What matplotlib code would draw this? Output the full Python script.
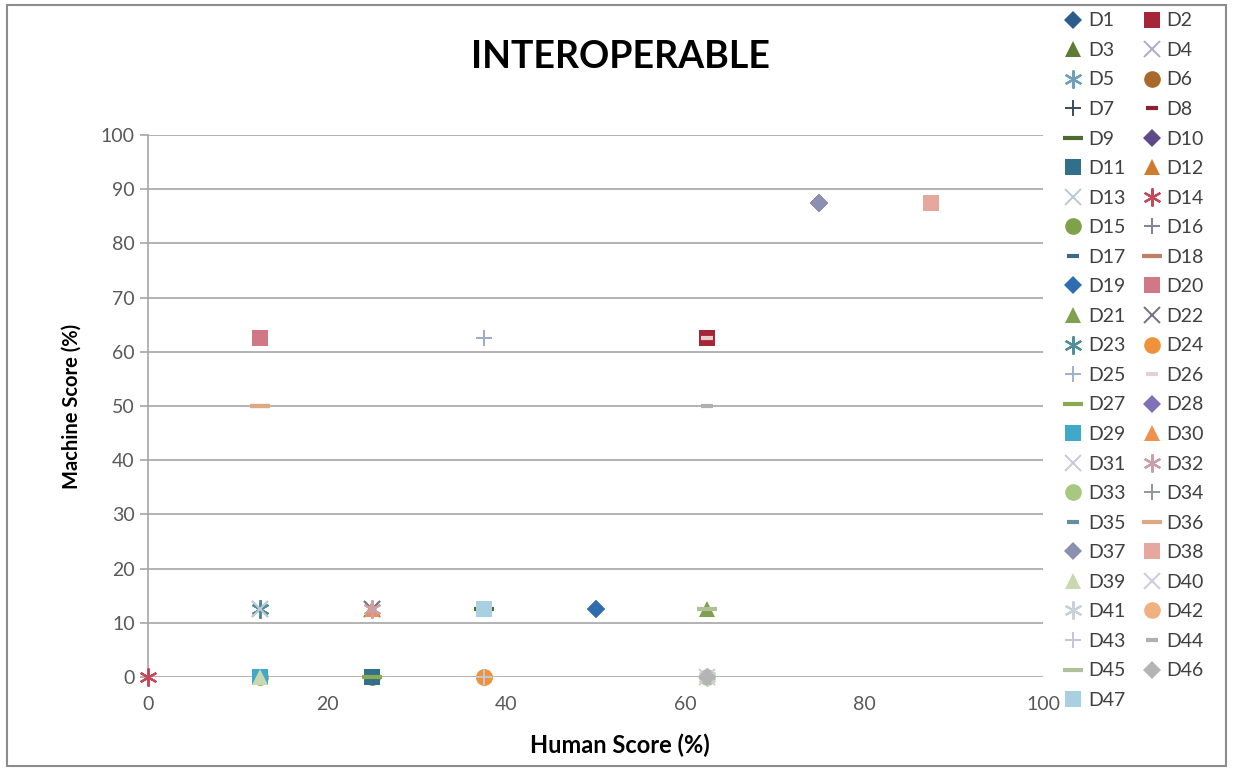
import matplotlib
matplotlib.use("Agg")
import matplotlib.pyplot as plt
from matplotlib.patches import Rectangle

plt.rcParams["font.family"] = ["Lato", "DejaVu Sans"]

# Human vs machine interoperability scores for each dataset
datasets = [f"D{i}" for i in range(1, 48)]
human_score = [
    50, 62.5, 12.5, 12.5, 12.5, 25, 37.5, 62.5, 37.5, 75,
    25, 25, 25, 0, 12.5, 62.5, 37.5, 12.5, 50, 12.5,
    62.5, 25, 12.5, 37.5, 37.5, 62.5, 25, 75, 12.5, 25,
    12.5, 25, 62.5, 62.5, 37.5, 12.5, 75, 87.5, 12.5, 62.5,
    62.5, 37.5, 37.5, 62.5, 62.5, 62.5, 37.5,
]
machine_score = [
    12.5, 62.5, 0, 12.5, 12.5, 0, 62.5, 62.5, 12.5, 87.5,
    0, 12.5, 12.5, 0, 0, 0, 12.5, 50, 12.5, 62.5,
    12.5, 12.5, 12.5, 0, 62.5, 62.5, 0, 87.5, 0, 12.5,
    12.5, 12.5, 0, 0, 12.5, 50, 87.5, 87.5, 0, 0,
    0, 0, 0, 50, 12.5, 0, 12.5,
]

# Excel-style marker cycle (9 shapes) and per-series colours
marker_cycle = ["D", "s", "^", "x", (6, 2, 0), "o", "+", "short", "long"]
colors = [
    "#2B5C8A", "#A52638", "#5E7D32", "#B3A6CF", "#6FA0B8", "#A8692A",
    "#3A4A5C", "#8E1F30", "#4E6B2D", "#5E4A8B", "#31708A", "#D07A2E",
    "#B8C8D8", "#C24A5A", "#7FA14A", "#7A8590", "#3A6A8A", "#C08060",
    "#2F6DB0", "#D07885", "#7FA050", "#707080", "#4F8F98", "#EE923C",
    "#A0B0C8", "#E8D0D0", "#8AAA50", "#8070B8", "#40A8C8", "#F09050",
    "#C8C8D8", "#C8A0A8", "#A8C880", "#909898", "#6090A0", "#E0A880",
    "#8C90B0", "#E6A79F", "#C8D8B0", "#D0C8E0", "#C8D0D8", "#F0B080",
    "#C0C8D8", "#B0B0B0", "#B0C098", "#B4B4B4", "#A8D0E0",
]

fig = plt.figure(figsize=(12.33, 7.72), dpi=100)
ax = fig.add_axes([0.120, 0.123, 0.726, 0.702])

handles = {}
for i, name in enumerate(datasets):
    m = marker_cycle[i % 9]
    c = colors[i]
    kw = dict(linestyle="none", color=c, label=name)
    if m == "short":
        kw.update(marker="_", markersize=8, markeredgewidth=3)
    elif m == "long":
        kw.update(marker="_", markersize=14, markeredgewidth=3)
    elif m in ("x", "+"):
        kw.update(marker=m, markersize=11, markeredgewidth=1.4)
    elif isinstance(m, tuple):
        kw.update(marker=m, markersize=13, markeredgewidth=1.6)
    elif m == "D":
        kw.update(marker=m, markersize=9, markeredgewidth=0)
    elif m == "^":
        kw.update(marker=m, markersize=12, markeredgewidth=0)
    else:
        kw.update(marker=m, markersize=12, markeredgewidth=0)
    # D42 sits underneath the D24 circle
    z = 2.5 if name == "D42" else 3
    ln, = ax.plot([human_score[i]], [machine_score[i]], clip_on=False,
                  zorder=z, **kw)
    handles[name] = ln

ax.set_xlim(0, 100)
ax.set_ylim(0, 100)
ax.set_xticks(range(0, 101, 20))
ax.set_yticks(range(0, 101, 10))
ax.yaxis.grid(True, color="#A6A6A6", linewidth=1.2)
ax.set_axisbelow(True)
for side in ("top", "right", "bottom"):
    ax.spines[side].set_visible(False)
ax.spines["left"].set_color("#A6A6A6")
ax.spines["left"].set_linewidth(1.2)
ax.tick_params(axis="both", colors="#A6A6A6", labelcolor="#595959",
               labelsize=14, length=6, width=1.2)
ax.tick_params(axis="x", length=0, pad=14)

ax.set_xlabel("Human Score (%)", fontsize=17, fontweight="bold")
ax.xaxis.set_label_coords(0.527, -0.105)
ax.set_ylabel("Machine Score (%)", fontsize=14.5, fontweight="bold", labelpad=14)
fig.text(0.503, 0.926, "INTEROPERABLE", ha="center", va="center",
         fontsize=27, fontweight="bold")

# legend laid out row-wise: D1 D2 / D3 D4 / ...
order = datasets[0::2] + datasets[1::2]
leg = fig.legend([handles[n] for n in order], order, ncol=2,
                 loc="upper left", bbox_to_anchor=(0.857, 0.994),
                 frameon=False, fontsize=14, handlelength=0.9,
                 handletextpad=0.3, columnspacing=0.9, labelspacing=0.645,
                 borderaxespad=0)
for t in leg.get_texts():
    t.set_color("#404040")

fig.patches.append(Rectangle((0.006, 0.008), 0.988, 0.986, transform=fig.transFigure,
                             fill=False, edgecolor="#8C8C8C", linewidth=1.5))

fig.savefig("out.png", dpi=100)
